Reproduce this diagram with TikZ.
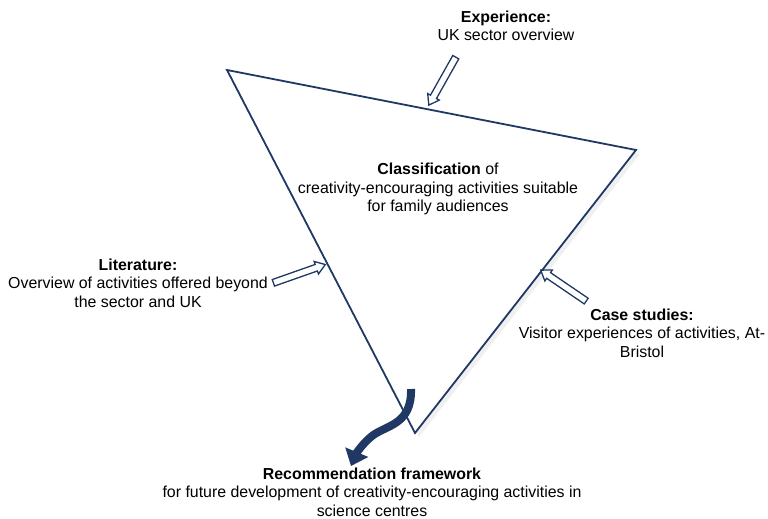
\documentclass[tikz,border=0pt]{standalone}
\usepackage{fontspec}
\setmainfont{Liberation Sans}
\usetikzlibrary{shapes.arrows,arrows.meta,shadows}
\definecolor{navy}{RGB}{31,56,100}
\tikzset{
  lbl/.style={align=center,inner sep=0pt,font=\fontsize{15.9}{18.6}\selectfont},
  hollow/.style={single arrow,draw=navy,fill=white,line width=1.3pt,inner xsep=0pt,inner ysep=2.8pt,
    single arrow head extend=3.2pt,single arrow tip angle=70,minimum height=55pt,sloped,allow upside down},
}
\begin{document}
\begin{tikzpicture}[x=1pt,y=1pt]
            \useasboundingbox (0,0) rectangle (768,-519);
            % triangle
            \coordinate (tl) at (227,-70);
            \coordinate (tr) at (636,-150);
            \coordinate (bt) at (415,-433);
            \draw[navy,fill=white,line width=1.8pt,drop shadow={shadow xshift=4pt,shadow yshift=-4pt,opacity=0.12}] (tl) -- (tr) -- (bt) -- cycle;
            % labels
            \node[lbl] (exp) at (506,-26) {\textbf{Experience:}\\UK sector overview};
            \node[lbl] (cls) at (438,-189) {\textbf{Classification} of\\creativity-encouraging activities suitable\\for family audiences};
            \node[lbl] (lit) at (138,-283) {\textbf{Literature:}\\Overview of activities offered beyond\\the sector and UK};
            \node[lbl] (cas) at (642,-333) {\textbf{Case studies:}\\Visitor experiences of activities, At-\\Bristol};
            \node[lbl] (rec) at (372,-492) {\textbf{Recommendation framework}\\for future development of creativity-encouraging activities in\\science centres};
            % input arrows
            \coordinate (exptail) at (457,-55);
            \coordinate (exptip) at (430,-103);
            \coordinate (littail) at (270,-284);
            \coordinate (littip) at (324,-265);
            \coordinate (castail) at (589,-303);
            \coordinate (castip) at (542,-271);
            \path (exptail) -- (exptip) node[hollow,midway] (exparr) {};
            \path (littail) -- (littip) node[hollow,midway] (litarr) {};
            \path (castail) -- (castip) node[hollow,midway] (casarr) {};
            % output arrow
            \coordinate (outstart) at (411,-389);
            \coordinate (outend) at (351,-466);
            \draw[navy,line width=8pt,-{Triangle[length=15pt,width=24pt]}] (outstart) .. controls (412,-425) and (386,-425) .. (372,-436) .. controls (362,-444) and (356,-454) .. (outend);
        \end{tikzpicture}
\end{document}
